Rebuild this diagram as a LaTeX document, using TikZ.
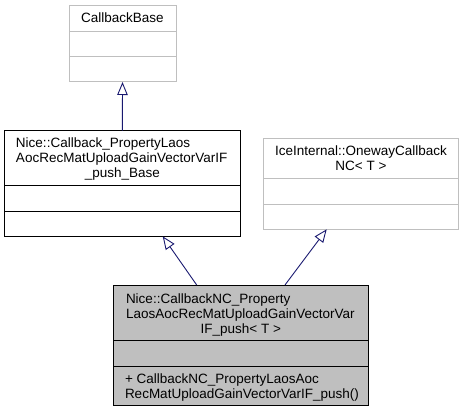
\documentclass[tikz,border=0pt]{standalone}
\usepackage{fontspec}
\setmainfont{Liberation Sans}
\usetikzlibrary{arrows.meta}
\definecolor{edgeblue}{HTML}{191970}
\definecolor{lgrey}{HTML}{BFBFBF}
\begin{document}
\begin{tikzpicture}[x=1pt,y=-1pt,
  every node/.style={font=\fontsize{13.5}{15}\selectfont, inner sep=0pt, outer sep=0pt},
  greybox/.style={draw=lgrey, fill=white, line width=1pt, anchor=north west},
  blackbox/.style={draw=black, fill=white, line width=1pt, anchor=north west},
  curbox/.style={draw=black, fill=lgrey, line width=1pt, anchor=north west},
  lbl/.style={anchor=base west},
  clbl/.style={anchor=base},
  inh/.style={draw=edgeblue, line width=0.9pt, -{Triangle[open, length=13pt, width=10.5pt, fill=white]}}]
\useasboundingbox (0,0) rectangle (464,412);
% CallbackBase
\node[greybox, minimum width=107pt, minimum height=76.7pt] (A) at (69,5.3) {};
\draw[lgrey, line width=1pt] (69,31.7) -- (176,31.7) (69,56.7) -- (176,56.7);
\node[clbl] (At) at (122.5,22.4) {CallbackBase};
% Callback_..._Base
\node[blackbox, minimum width=235.3pt, minimum height=105.6pt] (B) at (4.7,130.7) {};
\draw[line width=1pt] (4.7,186) -- (240,186) (4.7,211.3) -- (240,211.3);
\node[lbl] (Bt1) at (16,148) {Nice::Callback\_PropertyLaos};
\node[lbl] (Bt2) at (16,163) {AocRecMatUploadGainVectorVarIF};
\node[clbl] (Bt3) at (122.3,178) {\_push\_Base};
% IceInternal
\node[greybox, minimum width=195.4pt, minimum height=91pt] (C) at (263.3,138.3) {};
\draw[lgrey, line width=1pt] (263.3,178.3) -- (458.7,178.3) (263.3,204) -- (458.7,204);
\node[clbl] (Ct1) at (361,155.4) {IceInternal::OnewayCallback};
\node[clbl] (Ct2) at (361,170.4) {NC< T >};
% CallbackNC
\node[curbox, minimum width=255pt, minimum height=120.7pt] (D) at (113.3,285) {};
\draw[line width=1pt] (113.3,340.7) -- (368.3,340.7) (113.3,366.7) -- (368.3,366.7);
\node[lbl] (Dt1) at (126,303) {Nice::CallbackNC\_Property};
\node[lbl] (Dt2) at (126,318) {LaosAocRecMatUploadGainVectorVar};
\node[clbl] (Dt3) at (240.8,333) {IF\_push< T >};
\node[lbl] (Dm1) at (125,383) {+ CallbackNC\_PropertyLaosAoc};
\node[lbl] (Dm2) at (125,398) {RecMatUploadGainVectorVarIF\_push()};
% connectors
\coordinate (dB) at (196.7,285);
\coordinate (dC) at (285,285);
\coordinate (tB) at (162.7,236.3);
\coordinate (tC) at (326.7,229.3);
\draw[inh] (B.north) -- (A.south);
\draw[inh] (dB) -- (tB);
\draw[inh] (dC) -- (tC);
\end{tikzpicture}
\end{document}
